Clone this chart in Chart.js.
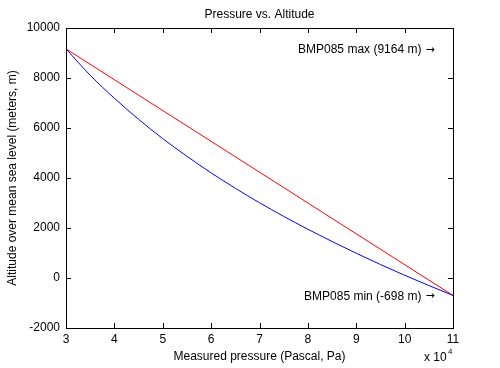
<!DOCTYPE html>
<html>
<head>
<meta charset="utf-8">
<script src="https://cdn.jsdelivr.net/npm/chart.js@4.4.1/dist/chart.umd.min.js"></script>
<style>
  html, body { margin: 0; padding: 0; background: #fff; }
  #wrap { width: 500px; height: 368px; }
</style>
</head>
<body>
<div id="wrap"><canvas id="altChart"></canvas></div>
<script>
// pressure in units of 10^4 Pa
const pressure = [3, 3.5, 4, 4.5, 5, 5.5, 6, 6.5, 7, 7.5, 8, 8.5, 9, 9.5, 10, 10.5, 11]
// measured altitude (blue curve), meters
const altitude = [9164, 8110, 7190, 6350, 5575, 4870, 4205, 3590, 3010, 2465, 1950, 1460, 990, 540, 110, -300, -698]
// straight reference line (red)
const linePressure = [3, 11]
const lineAltitude = [9164, -698]

const xTicks = [3, 4, 5, 6, 7, 8, 9, 10, 11]
const yTicks = [-2000, 0, 2000, 4000, 6000, 8000, 10000]

const chartTitle = "Pressure vs. Altitude"
const xTitle = "Measured pressure (Pascal, Pa)"
const yTitle = "Altitude over mean sea level (meters, m)"
const notes = [
  { text: "BMP085 max (9164 m)", x: 10.62, y: 9164 },
  { text: "BMP085 min (-698 m)", x: 10.62, y: -698 },
]

const FONT = "'Liberation Sans', Arial, sans-serif"

// caixa + ticks para dentro, título, anotações
const boxPlugin = {
  id: "box",
  afterDraw(chart) {
    const { ctx, chartArea: a, scales } = chart
    ctx.save()
    ctx.strokeStyle = "#000"
    ctx.lineWidth = 1
    ctx.strokeRect(a.left + 0.5, a.top + 0.5, a.right - a.left, a.bottom - a.top)

    const tl = 5
    ctx.beginPath()
    xTicks.forEach((v) => {
      const px = Math.round(scales.x.getPixelForValue(v)) + 0.5
      ctx.moveTo(px, a.bottom); ctx.lineTo(px, a.bottom - tl)
      ctx.moveTo(px, a.top); ctx.lineTo(px, a.top + tl)
    })
    yTicks.forEach((v) => {
      const py = Math.round(scales.y.getPixelForValue(v)) + 0.5
      ctx.moveTo(a.left, py); ctx.lineTo(a.left + tl, py)
      ctx.moveTo(a.right, py); ctx.lineTo(a.right - tl, py)
    })
    ctx.stroke()

    ctx.fillStyle = "#000"
    ctx.font = "12px " + FONT
    ctx.textBaseline = "middle"

    // título
    ctx.textAlign = "center"
    ctx.fillText(chartTitle, (a.left + a.right) / 2, 15)

    // anotações (seta em DejaVu, maior)
    ctx.textAlign = "right"
    notes.forEach((n) => {
      const px = scales.x.getPixelForValue(n.x)
      const py = scales.y.getPixelForValue(n.y) + 1
      ctx.font = "11px 'DejaVu Sans'"
      const w = ctx.measureText("\u2192").width
      ctx.fillText("\u2192", px, py)
      ctx.font = "12px " + FONT
      ctx.fillText(n.text, px - w - 4, py)
    })

    // multiplicador x 10^4
    ctx.textAlign = "left"
    ctx.font = "12px " + FONT
    ctx.fillText("x 10", 424, 358)
    ctx.font = "8px " + FONT
    ctx.fillText("4", 448, 352)
    ctx.restore()
  },
}

const ctx = document.getElementById("altChart").getContext("2d")

new Chart(ctx, {
  type: "scatter",
  data: {
    datasets: [
      {
        data: pressure.map((p, i) => ({ x: p, y: altitude[i] })),
        showLine: true,
        borderColor: "#0000ff",
        borderWidth: 1,
        pointRadius: 0,
        cubicInterpolationMode: "monotone",
      },
      {
        data: linePressure.map((p, i) => ({ x: p, y: lineAltitude[i] })),
        showLine: true,
        borderColor: "#ff0000",
        borderWidth: 1,
        pointRadius: 0,
      },
    ],
  },
  options: {
    responsive: true,
    maintainAspectRatio: false,
    animation: false,
    layout: { padding: { top: 28, right: 47, left: 0, bottom: 0 } },
    plugins: {
      legend: { display: false },
      tooltip: { enabled: false },
    },
    scales: {
      x: {
        type: "linear",
        min: 3,
        max: 11,
        afterBuildTicks: (s) => { s.ticks = xTicks.map((v) => ({ value: v })) },
        afterFit: (s) => { s.height = 40 },
        grid: { display: false, drawTicks: false },
        border: { display: false },
        ticks: { color: "#000", font: { family: FONT, size: 12 }, padding: 4, maxRotation: 0 },
        title: { display: true, text: xTitle, color: "#000", font: { family: FONT, size: 12 }, padding: { top: 0, bottom: 4 } },
      },
      y: {
        type: "linear",
        min: -2000,
        max: 10000,
        afterBuildTicks: (s) => { s.ticks = yTicks.map((v) => ({ value: v })) },
        afterFit: (s) => { s.width = 66 },
        grid: { display: false, drawTicks: false },
        border: { display: false },
        ticks: { color: "#000", font: { family: FONT, size: 12 }, padding: 6, callback: (v) => String(v) },
        title: { display: true, text: yTitle, color: "#000", font: { family: FONT, size: 12 }, padding: { top: 5, bottom: 0 } },
      },
    },
  },
  plugins: [boxPlugin],
})
</script>
</body>
</html>
